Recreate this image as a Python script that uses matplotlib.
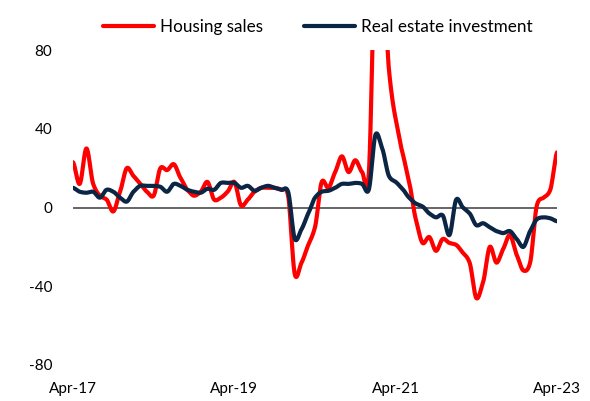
import numpy as np
import matplotlib
matplotlib.use("Agg")
import matplotlib.pyplot as plt

plt.rcParams['font.family'] = ['Lato', 'DejaVu Sans']

months = [f"{m}-{y}" for y in range(17, 24) for m in
          ["Jan", "Feb", "Mar", "Apr", "May", "Jun", "Jul", "Aug", "Sep", "Oct", "Nov", "Dec"]]
months = months[3:3 + 73]  # Apr-17 .. Apr-23

housing_sales = [23, 12, 30, 12, 6, 4, -2, 8, 20, 16, 12, 8, 6, 20, 19, 22, 15, 9, 6, 8,
                 13, 4, 5, 8, 13, 1, 4, 8, 10, 10, 10, 9, 6, -34, -28, -19, -10, 13, 10, 18,
                 26, 18, 24, 18, 17, 133, 133, 70, 45, 28, 13, -6, -18, -15, -22, -16, -18, -19, -23, -28,
                 -46, -38, -20, -28, -21, -14, -24, -32, -28, 1, 5, 9, 28]
real_estate_investment = [10, 8, 7.5, 8, 5, 9, 8, 5, 3, 8, 11, 11, 11, 10.5, 8, 12, 11, 9, 8, 7.5,
                          9.5, 9, 12.5, 12.5, 12.5, 10, 11, 8.5, 10, 11, 10, 9, 8, -16, -11, -3, 5, 8, 8.5, 10,
                          12, 12, 12.5, 12, 9, 37, 30, 16, 13, 9.5, 5, 2, 0.5, -3, -5, -4, -14, 4, 0, -3,
                          -9, -8, -10, -12, -13, -12, -16, -20, -12, -6, -5, -5.5, -7]

tick_labels = ["Apr-17", "Apr-19", "Apr-21", "Apr-23"]
tick_positions = [months.index(t) for t in tick_labels]
y_ticks = [-80, -40, 0, 40, 80]


def smooth(y, n=20):
    """Catmull-Rom curve through the points (rendering only)."""
    y = np.asarray(y, float)
    x = np.arange(len(y), dtype=float)
    xp = np.concatenate([[x[0] - 1], x, [x[-1] + 1]])
    yp = np.concatenate([[y[0]], y, [y[-1]]])
    xs, ys = [], []
    for i in range(1, len(xp) - 2):
        p0, p1, p2, p3 = yp[i - 1], yp[i], yp[i + 1], yp[i + 2]
        t = np.linspace(0, 1, n, endpoint=False)
        m1 = (p2 - p0) / 2 * 0.8
        m2 = (p3 - p1) / 2 * 0.8
        h00 = 2 * t**3 - 3 * t**2 + 1
        h10 = t**3 - 2 * t**2 + t
        h01 = -2 * t**3 + 3 * t**2
        h11 = t**3 - t**2
        ys.append(h00 * p1 + h10 * m1 + h01 * p2 + h11 * m2)
        xs.append(xp[i] + t)
    xs.append([x[-1]])
    ys.append([y[-1]])
    return np.concatenate(xs), np.concatenate(ys)


fig = plt.figure(figsize=(5.9, 4.01), dpi=100)
ax = fig.add_axes([73 / 590, 1 - 365 / 401, (557 - 73) / 590, (365 - 50) / 401])

ax.axhline(0, color='#595959', lw=1.3, zorder=1)

xs, ys = smooth(housing_sales)
ax.plot(xs, ys, color='#FF0000', lw=3, solid_capstyle='round', label='Housing sales', zorder=2)
xs, ys = smooth(real_estate_investment)
ax.plot(xs, ys, color='#0B2545', lw=3, solid_capstyle='round', label='Real estate investment', zorder=3)

ax.set_xlim(0, len(months) - 1)
ax.set_ylim(-80, 80)
ax.set_yticks(y_ticks)
ax.set_yticklabels([str(v) for v in y_ticks])
ax.set_xticks(tick_positions)
ax.set_xticklabels(tick_labels)
ax.tick_params(axis='y', length=0, pad=15, labelsize=11, colors='#000000')
ax.tick_params(axis='x', length=0, pad=12, labelsize=11, colors='#000000')
for s in ax.spines.values():
    s.set_visible(False)

leg = fig.legend(loc='center', bbox_to_anchor=(318 / 590, 1 - 27 / 401), ncol=2, frameon=False,
                 fontsize=12.3, handlelength=3.0, handletextpad=0.35, columnspacing=2.4)

fig.savefig('out.png', dpi=100)
